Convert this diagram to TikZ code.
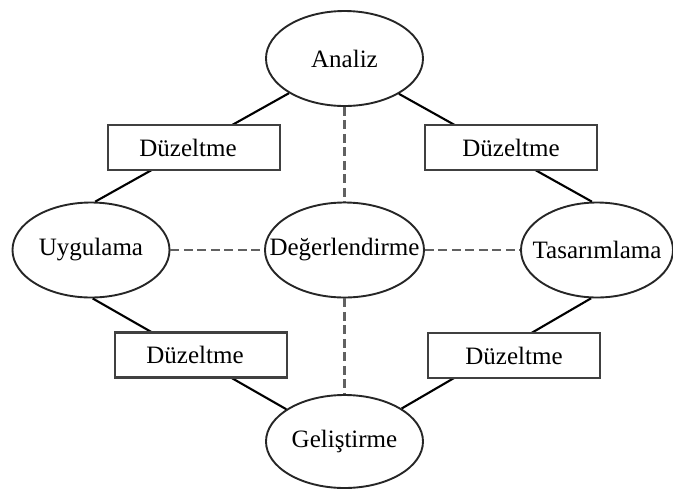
\documentclass[tikz,border=0pt]{standalone}
\usepackage{fontspec}
\setmainfont{Liberation Serif}
\usetikzlibrary{shapes.geometric}

\tikzset{
  phase/.style={ellipse, draw=black!85, line width=1.9pt,
    minimum width=157pt, minimum height=95pt, inner sep=0pt,
    font=\fontsize{25}{30}\selectfont},
  fixbox/.style={rectangle, draw=black!75, line width=2.3pt, fill=white,
    minimum width=172pt, minimum height=45pt, inner sep=0pt,
    font=\fontsize{25}{30}\selectfont},
  link/.style={black, line width=2.1pt},
  review/.style={black!62, line width=2.4pt, dash pattern=on 9pt off 4.5pt},
}

\begin{document}
\begin{tikzpicture}[x=1pt, y=-1pt]
  \useasboundingbox (0,0) rectangle (673,491);

  % phases of the cycle
  \node[phase] (A) at (344.5,58.5)  {\makebox[0pt]{Analiz}};
  \node[phase] (U) at (91,250)      {\makebox[0pt]{Uygulama}};
  \node[phase, minimum width=159pt] (D) at (344.5,250) {\makebox[0pt]{Değerlendirme}};
  \node[phase, minimum width=152pt] (T) at (597,250)   {\makebox[0pt]{Tasarımlama}};
  \node[phase, minimum height=93pt] (G) at (344.5,441.5) {\makebox[0pt]{Geliştirme}};

  % cycle links (pass behind the correction boxes)
  \draw[link] (A.212) -- (U.85);
  \draw[link] (A.327) -- (T.96);
  \draw[link] (U.272) -- (G.151);
  \draw[link] (T.263) -- (G.30);

  % evaluation links
  \draw[review] (A) -- (D);
  \draw[review] (D) -- (G);
  \draw[review] (U) -- (D);
  \draw[review] (D) -- (T);

  % correction boxes
  \node[fixbox] (B1) at (194,147.5) {Düzeltme\hspace*{12pt}};
  \node[fixbox] (B2) at (511,147.5) {Düzeltme};
  \node[fixbox] (B3) at (201,355)   {Düzeltme\hspace*{12pt}};
  \node[fixbox] (B4) at (514,355.5) {Düzeltme};
\end{tikzpicture}
\end{document}
